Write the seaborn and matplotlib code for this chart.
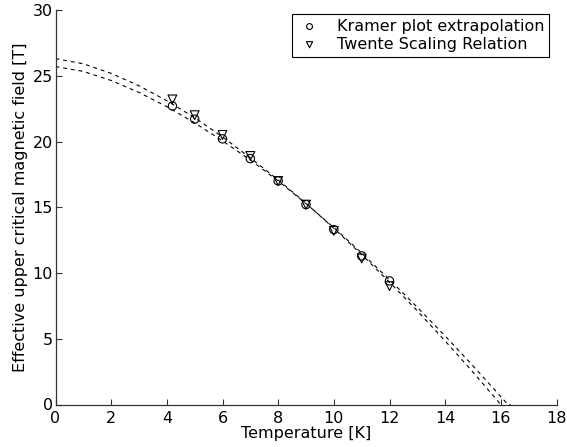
import numpy as np
import pandas as pd
import matplotlib
matplotlib.use("Agg")
import matplotlib.pyplot as plt
import seaborn as sns

# measured points
temps = [4.2, 5, 6, 7, 8, 9, 10, 11, 12]
kramer_b = [22.7, 21.7, 20.2, 18.7, 17.0, 15.2, 13.3, 11.3, 9.4]
twente_b = [23.2, 22.0, 20.5, 18.9, 17.0, 15.2, 13.2, 11.1, 9.0]

# dashed fit curves
fit_t = [0, 1, 2, 3, 4, 5, 6, 7, 8, 9, 10, 11, 12, 13, 14, 15, 16]
kramer_fit_t = fit_t + [16.25, 16.35]
kramer_fit_b = [25.7, 25.33, 24.64, 23.73, 22.65, 21.42, 20.05, 18.60, 17.0,
                15.28, 13.45, 11.52, 9.49, 7.39, 5.21, 2.94, 0.60, 0.0, 0.0]
twente_fit_t = fit_t
twente_fit_b = [26.3, 25.91, 25.18, 24.24, 23.10, 21.81, 20.35, 18.76, 17.08,
                15.30, 13.40, 11.40, 9.30, 7.12, 4.83, 2.46, 0.0]

xticks = [0, 2, 4, 6, 8, 10, 12, 14, 16, 18]
yticks = [0, 5, 10, 15, 20, 25, 30]

sns.set_theme(style="white", rc={"text.color": "black", "axes.labelcolor": "black",
                                 "xtick.color": "black", "ytick.color": "black"})
plt.rcParams['font.family'] = ['DejaVu Sans']

FS = 11.5

fig = plt.figure(figsize=(5.67, 4.47), dpi=100)
ax = fig.add_axes([55.5 / 567, 1 - 404.5 / 447, 501 / 567, 394.5 / 447])

kf = pd.DataFrame({"T": kramer_fit_t, "B": kramer_fit_b})
tf = pd.DataFrame({"T": twente_fit_t, "B": twente_fit_b})
sns.lineplot(data=kf, x="T", y="B", ax=ax, color="black", lw=0.8,
             linestyle=(0, (3.5, 3.5)), legend=False, sort=False)
sns.lineplot(data=tf, x="T", y="B", ax=ax, color="black", lw=0.8,
             linestyle=(0, (3.5, 3.5)), legend=False, sort=False)

kd = pd.DataFrame({"T": temps, "B": kramer_b})
td = pd.DataFrame({"T": temps, "B": twente_b})
sns.scatterplot(data=kd, x="T", y="B", ax=ax, marker="o", s=36,
                facecolors="none", edgecolor="black", linewidth=0.8,
                label="Kramer plot extrapolation")
sns.scatterplot(data=td, x="T", y="B", ax=ax, marker="v", s=40,
                facecolors="none", edgecolor="black", linewidth=0.8,
                label="Twente Scaling Relation")

ax.set_xlim(0, 18)
ax.set_ylim(0, 30)
ax.set_xticks(xticks)
ax.set_yticks(yticks)
ax.set_xticklabels([str(t) for t in xticks], fontsize=FS)
ax.set_yticklabels([str(t) for t in yticks], fontsize=FS)
ax.tick_params(direction="in", length=4, width=0.8, color="#333333",
               labelcolor="black",
               bottom=True, left=True, top=False, right=False)
ax.tick_params(axis="x", pad=5)
ax.tick_params(axis="y", pad=2)
for s in ["top", "right"]:
    ax.spines[s].set_visible(False)
for s in ["left", "bottom"]:
    ax.spines[s].set_color("#333333")
    ax.spines[s].set_linewidth(0.9)

ax.set_xlabel("Temperature [K]", fontsize=FS, labelpad=0, color="black")
ax.set_ylabel("Effective upper critical magnetic field [T]", fontsize=FS,
              labelpad=3, color="black")

leg = ax.legend(loc="upper right", bbox_to_anchor=(0.985, 0.99), fontsize=FS,
                frameon=True, fancybox=False, edgecolor="black", framealpha=1,
                borderpad=0.3, handletextpad=0.9, labelspacing=0.2,
                markerscale=0.7, handlelength=1.6, borderaxespad=0)
leg.get_frame().set_linewidth(0.8)
for t in leg.get_texts():
    t.set_color("black")

fig.savefig("out.png", dpi=100)
